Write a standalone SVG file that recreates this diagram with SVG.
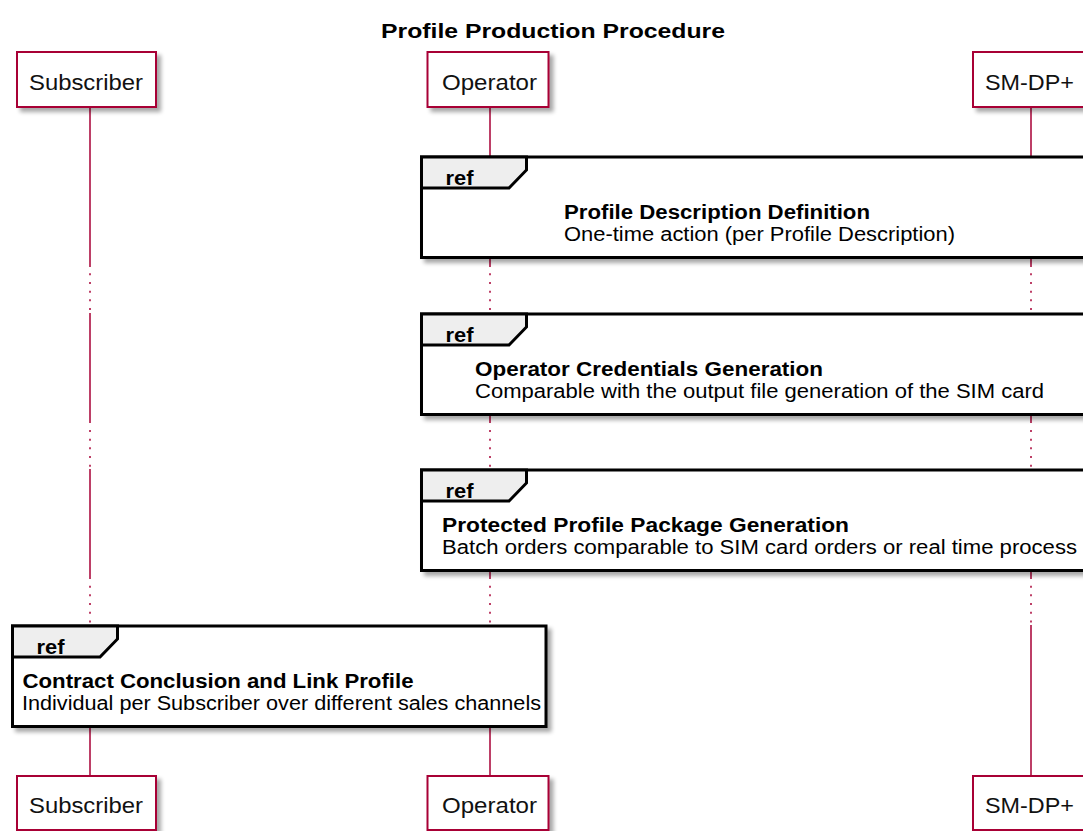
<svg xmlns="http://www.w3.org/2000/svg" width="1083" height="831" viewBox="0 0 1083 831">
<defs>
<filter id="sh" x="-10%" y="-10%" width="130%" height="140%">
<feGaussianBlur in="SourceAlpha" stdDeviation="2"/>
<feOffset dx="4" dy="4"/>
<feComponentTransfer><feFuncA type="linear" slope="0.35"/></feComponentTransfer>
<feMerge><feMergeNode/><feMergeNode in="SourceGraphic"/></feMerge>
</filter>
<style>
text{font-family:"Liberation Sans",Arial,Helvetica,sans-serif;fill:#000}
.pbox{fill:#fff;stroke:#A80036;stroke-width:2}
.ptxt{font-size:22px;fill:#111}
.life{stroke:#A80036;stroke-width:1.5;fill:none}
.dot{stroke-dasharray:2 6.67}
.rbox{fill:#fff;stroke:#000;stroke-width:3}
.rtab{fill:#EEEEEE;stroke:#000;stroke-width:3;stroke-linejoin:miter}
.rb{font-weight:bold;font-size:20px}
.rt{font-size:19.5px}
.title{font-weight:bold;font-size:20px}
</style>
</defs>
<rect width="1083" height="831" fill="#fff"/>
<text class="title" x="381" y="38" textLength="344" lengthAdjust="spacingAndGlyphs">Profile Production Procedure</text>

<g id="lifelines">
<path class="life" d="M90,106V267M90,313V423M90,469V579M90,625V776"/>
<line class="life dot" x1="90" y1="273.3" x2="90" y2="312"/>
<line class="life dot" x1="90" y1="430" x2="90" y2="469"/>
<line class="life dot" x1="90" y1="585.7" x2="90" y2="624"/>
<path class="life" d="M490,106V267M490,313V423M490,469V579M490,625V776"/>
<line class="life dot" x1="490" y1="273.3" x2="490" y2="312"/>
<line class="life dot" x1="490" y1="430" x2="490" y2="469"/>
<line class="life dot" x1="490" y1="585.7" x2="490" y2="624"/>
<path class="life" d="M1031,106V267M1031,313V423M1031,469V579M1031,625V776"/>
<line class="life dot" x1="1031" y1="273.3" x2="1031" y2="312"/>
<line class="life dot" x1="1031" y1="430" x2="1031" y2="469"/>
<line class="life dot" x1="1031" y1="585.7" x2="1031" y2="624"/>
</g>

<g id="ref1">
<rect class="rbox" x="421.5" y="157" width="680" height="100.5" filter="url(#sh)"/>
<path class="rtab" d="M421.5,157H526.5V170L509,188H421.5Z"/>
<text class="rb" x="445.5" y="185" textLength="28" lengthAdjust="spacingAndGlyphs">ref</text>
<text class="rb" x="564" y="219" textLength="306" lengthAdjust="spacingAndGlyphs">Profile Description Definition</text>
<text class="rt" x="564" y="241" textLength="391" lengthAdjust="spacingAndGlyphs">One-time action (per Profile Description)</text>
</g>

<g id="ref2">
<rect class="rbox" x="421.5" y="314" width="680" height="100.5" filter="url(#sh)"/>
<path class="rtab" d="M421.5,314H526.5V327L509,345H421.5Z"/>
<text class="rb" x="445.5" y="342" textLength="28" lengthAdjust="spacingAndGlyphs">ref</text>
<text class="rb" x="475" y="376" textLength="348" lengthAdjust="spacingAndGlyphs">Operator Credentials Generation</text>
<text class="rt" x="475" y="398" textLength="569" lengthAdjust="spacingAndGlyphs">Comparable with the output file generation of the SIM card</text>
</g>

<g id="ref3">
<rect class="rbox" x="421.5" y="470" width="680" height="100.5" filter="url(#sh)"/>
<path class="rtab" d="M421.5,470H526.5V483L509,501H421.5Z"/>
<text class="rb" x="445.5" y="498" textLength="28" lengthAdjust="spacingAndGlyphs">ref</text>
<text class="rb" x="442" y="532" textLength="407" lengthAdjust="spacingAndGlyphs">Protected Profile Package Generation</text>
<text class="rt" x="442" y="554" textLength="635" lengthAdjust="spacingAndGlyphs">Batch orders comparable to SIM card orders or real time process</text>
</g>

<g id="ref4">
<rect class="rbox" x="12.5" y="626" width="533.5" height="100.5" filter="url(#sh)"/>
<path class="rtab" d="M12.5,626H117.5V639L100,657H12.5Z"/>
<text class="rb" x="36.5" y="654" textLength="28" lengthAdjust="spacingAndGlyphs">ref</text>
<text class="rb" x="22.5" y="688" textLength="391" lengthAdjust="spacingAndGlyphs">Contract Conclusion and Link Profile</text>
<text class="rt" x="22" y="710" textLength="519" lengthAdjust="spacingAndGlyphs">Individual per Subscriber over different sales channels</text>
</g>

<g id="subscriber-top">
<rect class="pbox" x="17" y="52" width="139" height="55" filter="url(#sh)"/>
<text class="ptxt" x="29" y="90" textLength="114" lengthAdjust="spacingAndGlyphs">Subscriber</text>
</g>
<g id="operator-top">
<rect class="pbox" x="427.5" y="52" width="121" height="55" filter="url(#sh)"/>
<text class="ptxt" x="442" y="90" textLength="95" lengthAdjust="spacingAndGlyphs">Operator</text>
</g>
<g id="smdp-top">
<rect class="pbox" x="973" y="52" width="117" height="55" filter="url(#sh)"/>
<text class="ptxt" x="985" y="90" textLength="89" lengthAdjust="spacingAndGlyphs">SM-DP+</text>
</g>
<g id="subscriber-bottom">
<rect class="pbox" x="17" y="776" width="139" height="54" filter="url(#sh)"/>
<text class="ptxt" x="29" y="813" textLength="114" lengthAdjust="spacingAndGlyphs">Subscriber</text>
</g>
<g id="operator-bottom">
<rect class="pbox" x="427.5" y="776" width="121" height="54" filter="url(#sh)"/>
<text class="ptxt" x="442" y="813" textLength="95" lengthAdjust="spacingAndGlyphs">Operator</text>
</g>
<g id="smdp-bottom">
<rect class="pbox" x="973" y="776" width="117" height="54" filter="url(#sh)"/>
<text class="ptxt" x="985" y="813" textLength="89" lengthAdjust="spacingAndGlyphs">SM-DP+</text>
</g>
</svg>
